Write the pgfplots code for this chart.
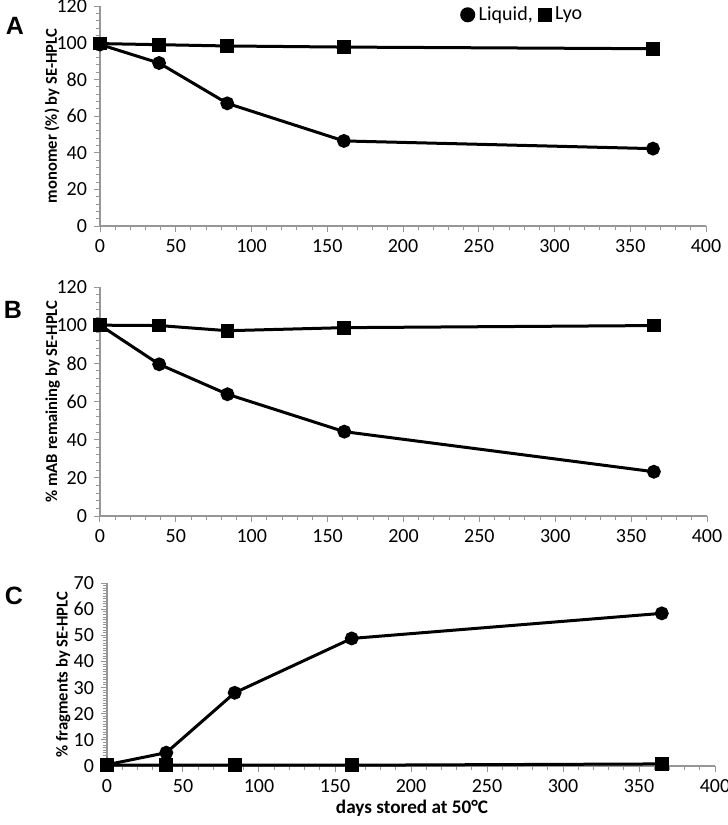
\documentclass[border=0pt]{standalone}
\usepackage{fontspec}
\setmainfont{Carlito}
\newfontfamily\arialfont{Liberation Sans}
\usepackage{pgfplots}
\pgfplotsset{compat=1.18}
\definecolor{axgray}{RGB}{150,150,150}
\pgfplotsset{
 myax/.style={
  scale only axis, axis lines=left, axis line style={axgray, -, line width=0.6pt},
  xmin=0, xmax=400, xtick={0,50,...,400}, minor x tick num=4,
  tick align=outside, tick style={axgray, line width=0.5pt}, major tick length=3pt, minor tick length=2.2pt,
  ticklabel style={font=\fontsize{10}{12}\selectfont, text=black},
  /pgf/number format/assume math mode=true,
  ylabel style={font=\bfseries\fontsize{8.3}{10}\selectfont, anchor=center},
  every axis plot/.append style={black, line width=1.5pt},
  clip=false,
 },
 liq/.style={mark=*, mark size=2.7pt, mark options={fill=black}},
 lyo/.style={mark=square*, mark size=2.7pt, mark options={fill=black}},
}
\begin{document}
\begin{tikzpicture}
\useasboundingbox (0,0) rectangle (364pt,-412.5pt);
% Panel A
\begin{axis}[myax, at={(50pt,-113pt)}, anchor=south west, width=303pt, height=110pt,
  ymin=0, ymax=120, ytick={0,20,...,120}, minor y tick num=4,
  ylabel={monomer (\%) by SE-HPLC},
  ylabel style={at={(axis description cs:-0.079,0.5)}},
  legend style={draw=none, fill=none, at={(0.698,0.96)}, anchor=center, legend columns=2,
    font=\fontsize{10}{12}\selectfont, inner sep=0pt, column sep=0pt,
    nodes={inner sep=1pt},
    /tikz/every odd column/.append style={column sep=1.5pt},
    /tikz/every even column/.append style={column sep=2.5pt}},
  legend cell align=left]
\addplot[liq, forget plot] coordinates {(0,99) (39,88.9) (84,66.9) (161,46.4) (365,42.2)};
\addplot[lyo, forget plot] coordinates {(0,99.5) (39,98.9) (84,98.2) (161,97.6) (365,96.7)};
\addlegendimage{only marks, black, mark=*, mark size=3pt}
\addlegendentry{Liquid,}
\addlegendimage{only marks, black, mark=square*, mark size=2.6pt}
\addlegendentry{Lyo}
\end{axis}
% Panel B
\begin{axis}[myax, at={(50pt,-258pt)}, anchor=south west, width=303.5pt, height=114.5pt,
  ymin=0, ymax=120, ytick={0,20,...,120}, minor y tick num=4,
  ylabel={\% mAB remaining by SE-HPLC},
  ylabel style={at={(axis description cs:-0.078,0.5)}}]
\addplot[liq] coordinates {(0,100) (39,79.5) (84,63.8) (161,44.2) (365,23.2)};
\addplot[lyo] coordinates {(0,100) (39,99.8) (84,97.1) (161,98.7) (365,99.8)};
\end{axis}
% Panel C
\begin{axis}[myax, at={(53.5pt,-383pt)}, anchor=south west, width=304pt, height=91.5pt,
  ymin=0, ymax=70, ytick={0,10,...,70}, minor y tick num=9,
  ylabel={\% fragments by SE-HPLC},
  ylabel style={at={(axis description cs:-0.072,0.5)}}]
\addplot[liq] coordinates {(0,0.5) (39,5.1) (84,28.0) (161,48.8) (365,58.4)};
\addplot[lyo] coordinates {(0,0.3) (39,0.3) (84,0.3) (161,0.3) (365,0.8)};
\end{axis}
\node[font=\bfseries\fontsize{9.6}{11}\selectfont] at (206pt,-404pt) {days stored at 50°C};
\node[font=\arialfont\bfseries\fontsize{12.5}{14}\selectfont] at (7.5pt,-13pt) {A};
\node[font=\arialfont\bfseries\fontsize{12.5}{14}\selectfont] at (6.5pt,-155pt) {B};
\node[font=\arialfont\bfseries\fontsize{12.5}{14}\selectfont] at (7pt,-298pt) {C};
\end{tikzpicture}
\end{document}
